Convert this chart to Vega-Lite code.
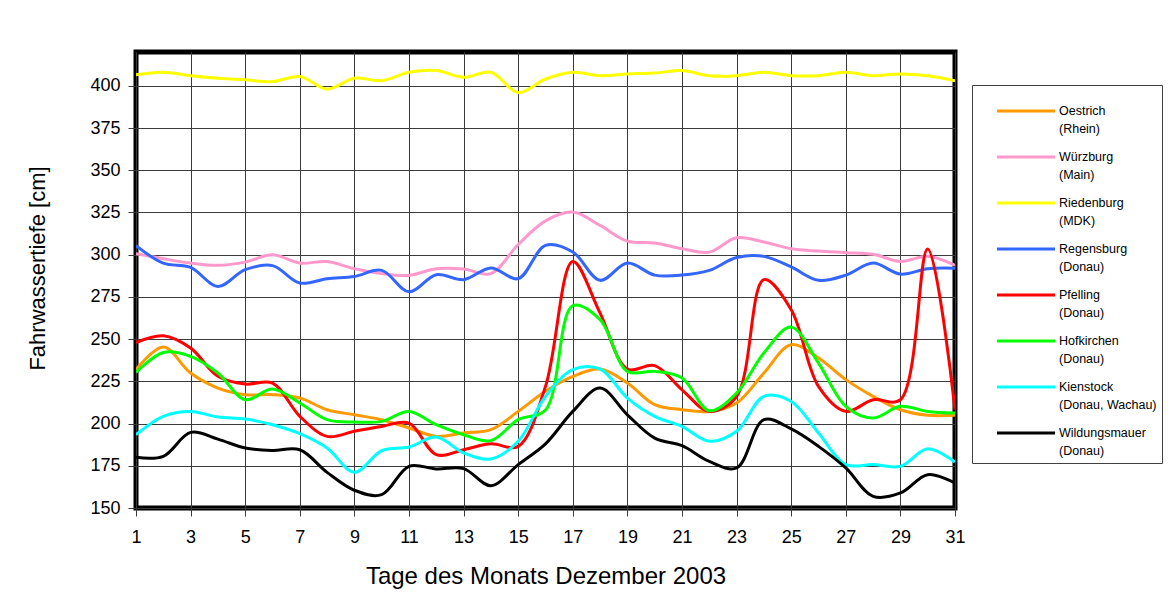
{
  "$schema": "https://vega.github.io/schema/vega-lite/v6.json",
  "width": 819,
  "height": 456,
  "autosize": {"type": "none"},
  "padding": {"left": 136, "top": 52, "right": 217, "bottom": 106},
  "background": "white",
  "config": {
    "font": "Liberation Sans",
    "view": {"stroke": "black", "strokeWidth": 5},
    "axis": {
      "labelFont": "Liberation Sans",
      "titleFont": "Liberation Sans",
      "labelColor": "black",
      "titleColor": "black",
      "labelFontSize": 18,
      "titleFontWeight": "normal",
      "gridColor": "#3a3a3a",
      "gridOpacity": 1,
      "gridWidth": 1,
      "tickColor": "#3a3a3a",
      "tickSize": 8,
      "domain": false
    }
  },
  "datasets": {
    "wl": [
      {"day":1,"s":"Oestrich (Rhein)","v":231.9},{"day":2,"s":"Oestrich (Rhein)","v":245.3},{"day":3,"s":"Oestrich (Rhein)","v":229.9},{"day":4,"s":"Oestrich (Rhein)","v":221},{"day":5,"s":"Oestrich (Rhein)","v":217.1},{"day":6,"s":"Oestrich (Rhein)","v":217.1},{"day":7,"s":"Oestrich (Rhein)","v":215.1},{"day":8,"s":"Oestrich (Rhein)","v":208.2},{"day":9,"s":"Oestrich (Rhein)","v":205.2},{"day":10,"s":"Oestrich (Rhein)","v":202.3},{"day":11,"s":"Oestrich (Rhein)","v":197.4},{"day":12,"s":"Oestrich (Rhein)","v":192.4},{"day":13,"s":"Oestrich (Rhein)","v":194.4},{"day":14,"s":"Oestrich (Rhein)","v":196.4},{"day":15,"s":"Oestrich (Rhein)","v":207.2},{"day":16,"s":"Oestrich (Rhein)","v":219.1},{"day":17,"s":"Oestrich (Rhein)","v":227.9},{"day":18,"s":"Oestrich (Rhein)","v":232.3},{"day":19,"s":"Oestrich (Rhein)","v":224},{"day":20,"s":"Oestrich (Rhein)","v":211.2},{"day":21,"s":"Oestrich (Rhein)","v":208.2},{"day":22,"s":"Oestrich (Rhein)","v":207.2},{"day":23,"s":"Oestrich (Rhein)","v":212.2},{"day":24,"s":"Oestrich (Rhein)","v":229.9},{"day":25,"s":"Oestrich (Rhein)","v":246.7},{"day":26,"s":"Oestrich (Rhein)","v":238.8},{"day":27,"s":"Oestrich (Rhein)","v":226},{"day":28,"s":"Oestrich (Rhein)","v":216.1},{"day":29,"s":"Oestrich (Rhein)","v":208.2},{"day":30,"s":"Oestrich (Rhein)","v":204.9},{"day":31,"s":"Oestrich (Rhein)","v":204.9},

      {"day":1,"s":"Würzburg (Main)","v":300.6},{"day":2,"s":"Würzburg (Main)","v":297.6},{"day":3,"s":"Würzburg (Main)","v":295},{"day":4,"s":"Würzburg (Main)","v":293.7},{"day":5,"s":"Würzburg (Main)","v":295.6},{"day":6,"s":"Würzburg (Main)","v":300},{"day":7,"s":"Würzburg (Main)","v":295},{"day":8,"s":"Würzburg (Main)","v":295.9},{"day":9,"s":"Würzburg (Main)","v":291.7},{"day":10,"s":"Würzburg (Main)","v":288.8},{"day":11,"s":"Würzburg (Main)","v":287.7},{"day":12,"s":"Würzburg (Main)","v":291.7},{"day":13,"s":"Würzburg (Main)","v":291.5},{"day":14,"s":"Würzburg (Main)","v":288.8},{"day":15,"s":"Würzburg (Main)","v":306},{"day":16,"s":"Würzburg (Main)","v":320},{"day":17,"s":"Würzburg (Main)","v":325.2},{"day":18,"s":"Würzburg (Main)","v":317.3},{"day":19,"s":"Würzburg (Main)","v":308},{"day":20,"s":"Würzburg (Main)","v":306.9},{"day":21,"s":"Würzburg (Main)","v":303.5},{"day":22,"s":"Würzburg (Main)","v":301.5},{"day":23,"s":"Würzburg (Main)","v":310},{"day":24,"s":"Würzburg (Main)","v":307.5},{"day":25,"s":"Würzburg (Main)","v":303.5},{"day":26,"s":"Würzburg (Main)","v":302.1},{"day":27,"s":"Würzburg (Main)","v":301.2},{"day":28,"s":"Würzburg (Main)","v":300.2},{"day":29,"s":"Würzburg (Main)","v":296},{"day":30,"s":"Würzburg (Main)","v":299},{"day":31,"s":"Würzburg (Main)","v":293.7},

      {"day":1,"s":"Riedenburg (MDK)","v":406.5},{"day":2,"s":"Riedenburg (MDK)","v":408},{"day":3,"s":"Riedenburg (MDK)","v":406},{"day":4,"s":"Riedenburg (MDK)","v":404.5},{"day":5,"s":"Riedenburg (MDK)","v":403.5},{"day":6,"s":"Riedenburg (MDK)","v":402.5},{"day":7,"s":"Riedenburg (MDK)","v":405.5},{"day":8,"s":"Riedenburg (MDK)","v":398},{"day":9,"s":"Riedenburg (MDK)","v":404.5},{"day":10,"s":"Riedenburg (MDK)","v":403},{"day":11,"s":"Riedenburg (MDK)","v":408},{"day":12,"s":"Riedenburg (MDK)","v":409},{"day":13,"s":"Riedenburg (MDK)","v":405},{"day":14,"s":"Riedenburg (MDK)","v":408},{"day":15,"s":"Riedenburg (MDK)","v":396},{"day":16,"s":"Riedenburg (MDK)","v":404},{"day":17,"s":"Riedenburg (MDK)","v":408},{"day":18,"s":"Riedenburg (MDK)","v":406},{"day":19,"s":"Riedenburg (MDK)","v":407},{"day":20,"s":"Riedenburg (MDK)","v":407.5},{"day":21,"s":"Riedenburg (MDK)","v":409},{"day":22,"s":"Riedenburg (MDK)","v":406},{"day":23,"s":"Riedenburg (MDK)","v":406},{"day":24,"s":"Riedenburg (MDK)","v":408},{"day":25,"s":"Riedenburg (MDK)","v":406},{"day":26,"s":"Riedenburg (MDK)","v":406},{"day":27,"s":"Riedenburg (MDK)","v":408},{"day":28,"s":"Riedenburg (MDK)","v":406},{"day":29,"s":"Riedenburg (MDK)","v":407},{"day":30,"s":"Riedenburg (MDK)","v":406},{"day":31,"s":"Riedenburg (MDK)","v":403},

      {"day":1,"s":"Regensburg (Donau)","v":305.3},{"day":2,"s":"Regensburg (Donau)","v":295},{"day":3,"s":"Regensburg (Donau)","v":292.5},{"day":4,"s":"Regensburg (Donau)","v":281.2},{"day":5,"s":"Regensburg (Donau)","v":291.1},{"day":6,"s":"Regensburg (Donau)","v":293.5},{"day":7,"s":"Regensburg (Donau)","v":283.2},{"day":8,"s":"Regensburg (Donau)","v":285.8},{"day":9,"s":"Regensburg (Donau)","v":287.1},{"day":10,"s":"Regensburg (Donau)","v":290.7},{"day":11,"s":"Regensburg (Donau)","v":278},{"day":12,"s":"Regensburg (Donau)","v":288.1},{"day":13,"s":"Regensburg (Donau)","v":285.2},{"day":14,"s":"Regensburg (Donau)","v":292.1},{"day":15,"s":"Regensburg (Donau)","v":285.8},{"day":16,"s":"Regensburg (Donau)","v":305.5},{"day":17,"s":"Regensburg (Donau)","v":301.6},{"day":18,"s":"Regensburg (Donau)","v":284.8},{"day":19,"s":"Regensburg (Donau)","v":295},{"day":20,"s":"Regensburg (Donau)","v":287.9},{"day":21,"s":"Regensburg (Donau)","v":287.9},{"day":22,"s":"Regensburg (Donau)","v":290.7},{"day":23,"s":"Regensburg (Donau)","v":298.3},{"day":24,"s":"Regensburg (Donau)","v":299},{"day":25,"s":"Regensburg (Donau)","v":292.7},{"day":26,"s":"Regensburg (Donau)","v":284.8},{"day":27,"s":"Regensburg (Donau)","v":287.9},{"day":28,"s":"Regensburg (Donau)","v":295},{"day":29,"s":"Regensburg (Donau)","v":288.5},{"day":30,"s":"Regensburg (Donau)","v":291.7},{"day":31,"s":"Regensburg (Donau)","v":292},

      {"day":1,"s":"Pfelling (Donau)","v":248},{"day":2,"s":"Pfelling (Donau)","v":252},{"day":3,"s":"Pfelling (Donau)","v":244.7},{"day":4,"s":"Pfelling (Donau)","v":228},{"day":5,"s":"Pfelling (Donau)","v":223.4},{"day":6,"s":"Pfelling (Donau)","v":224},{"day":7,"s":"Pfelling (Donau)","v":204.3},{"day":8,"s":"Pfelling (Donau)","v":192.4},{"day":9,"s":"Pfelling (Donau)","v":195.4},{"day":10,"s":"Pfelling (Donau)","v":198.3},{"day":11,"s":"Pfelling (Donau)","v":200.3},{"day":12,"s":"Pfelling (Donau)","v":181.6},{"day":13,"s":"Pfelling (Donau)","v":184.5},{"day":14,"s":"Pfelling (Donau)","v":188},{"day":15,"s":"Pfelling (Donau)","v":186.5},{"day":16,"s":"Pfelling (Donau)","v":222},{"day":17,"s":"Pfelling (Donau)","v":296},{"day":18,"s":"Pfelling (Donau)","v":265.4},{"day":19,"s":"Pfelling (Donau)","v":232.3},{"day":20,"s":"Pfelling (Donau)","v":234.3},{"day":21,"s":"Pfelling (Donau)","v":220},{"day":22,"s":"Pfelling (Donau)","v":207.2},{"day":23,"s":"Pfelling (Donau)","v":216},{"day":24,"s":"Pfelling (Donau)","v":285.2},{"day":25,"s":"Pfelling (Donau)","v":267.4},{"day":26,"s":"Pfelling (Donau)","v":222},{"day":27,"s":"Pfelling (Donau)","v":207.2},{"day":28,"s":"Pfelling (Donau)","v":214.1},{"day":29,"s":"Pfelling (Donau)","v":214.1},{"day":30,"s":"Pfelling (Donau)","v":303.3},{"day":31,"s":"Pfelling (Donau)","v":208.2},

      {"day":1,"s":"Hofkirchen (Donau)","v":230.3},{"day":2,"s":"Hofkirchen (Donau)","v":242.1},{"day":3,"s":"Hofkirchen (Donau)","v":239.8},{"day":4,"s":"Hofkirchen (Donau)","v":229.9},{"day":5,"s":"Hofkirchen (Donau)","v":214.1},{"day":6,"s":"Hofkirchen (Donau)","v":220.4},{"day":7,"s":"Hofkirchen (Donau)","v":212.2},{"day":8,"s":"Hofkirchen (Donau)","v":202.3},{"day":9,"s":"Hofkirchen (Donau)","v":200.9},{"day":10,"s":"Hofkirchen (Donau)","v":201.3},{"day":11,"s":"Hofkirchen (Donau)","v":207.2},{"day":12,"s":"Hofkirchen (Donau)","v":199.3},{"day":13,"s":"Hofkirchen (Donau)","v":193.4},{"day":14,"s":"Hofkirchen (Donau)","v":189.9},{"day":15,"s":"Hofkirchen (Donau)","v":202.3},{"day":16,"s":"Hofkirchen (Donau)","v":208},{"day":17,"s":"Hofkirchen (Donau)","v":269.8},{"day":18,"s":"Hofkirchen (Donau)","v":261.5},{"day":19,"s":"Hofkirchen (Donau)","v":230.9},{"day":20,"s":"Hofkirchen (Donau)","v":230.9},{"day":21,"s":"Hofkirchen (Donau)","v":227},{"day":22,"s":"Hofkirchen (Donau)","v":207.6},{"day":23,"s":"Hofkirchen (Donau)","v":218},{"day":24,"s":"Hofkirchen (Donau)","v":241.8},{"day":25,"s":"Hofkirchen (Donau)","v":257.1},{"day":26,"s":"Hofkirchen (Donau)","v":235.8},{"day":27,"s":"Hofkirchen (Donau)","v":210.2},{"day":28,"s":"Hofkirchen (Donau)","v":203.3},{"day":29,"s":"Hofkirchen (Donau)","v":210.2},{"day":30,"s":"Hofkirchen (Donau)","v":207.2},{"day":31,"s":"Hofkirchen (Donau)","v":206.2},

      {"day":1,"s":"Kienstock (Donau, Wachau)","v":193.4},{"day":2,"s":"Kienstock (Donau, Wachau)","v":204.3},{"day":3,"s":"Kienstock (Donau, Wachau)","v":207.2},{"day":4,"s":"Kienstock (Donau, Wachau)","v":203.9},{"day":5,"s":"Kienstock (Donau, Wachau)","v":202.7},{"day":6,"s":"Kienstock (Donau, Wachau)","v":199.3},{"day":7,"s":"Kienstock (Donau, Wachau)","v":194},{"day":8,"s":"Kienstock (Donau, Wachau)","v":185.5},{"day":9,"s":"Kienstock (Donau, Wachau)","v":171.1},{"day":10,"s":"Kienstock (Donau, Wachau)","v":183.9},{"day":11,"s":"Kienstock (Donau, Wachau)","v":186.1},{"day":12,"s":"Kienstock (Donau, Wachau)","v":192},{"day":13,"s":"Kienstock (Donau, Wachau)","v":182.6},{"day":14,"s":"Kienstock (Donau, Wachau)","v":179},{"day":15,"s":"Kienstock (Donau, Wachau)","v":189.5},{"day":16,"s":"Kienstock (Donau, Wachau)","v":216},{"day":17,"s":"Kienstock (Donau, Wachau)","v":231.9},{"day":18,"s":"Kienstock (Donau, Wachau)","v":232.3},{"day":19,"s":"Kienstock (Donau, Wachau)","v":215.1},{"day":20,"s":"Kienstock (Donau, Wachau)","v":204.3},{"day":21,"s":"Kienstock (Donau, Wachau)","v":198.3},{"day":22,"s":"Kienstock (Donau, Wachau)","v":189.5},{"day":23,"s":"Kienstock (Donau, Wachau)","v":195.4},{"day":24,"s":"Kienstock (Donau, Wachau)","v":216.1},{"day":25,"s":"Kienstock (Donau, Wachau)","v":213.1},{"day":26,"s":"Kienstock (Donau, Wachau)","v":194.4},{"day":27,"s":"Kienstock (Donau, Wachau)","v":175.7},{"day":28,"s":"Kienstock (Donau, Wachau)","v":175.7},{"day":29,"s":"Kienstock (Donau, Wachau)","v":174.7},{"day":30,"s":"Kienstock (Donau, Wachau)","v":185.1},{"day":31,"s":"Kienstock (Donau, Wachau)","v":177.2},

      {"day":1,"s":"Wildungsmauer (Donau)","v":180},{"day":2,"s":"Wildungsmauer (Donau)","v":180.6},{"day":3,"s":"Wildungsmauer (Donau)","v":194.8},{"day":4,"s":"Wildungsmauer (Donau)","v":190.8},{"day":5,"s":"Wildungsmauer (Donau)","v":185.5},{"day":6,"s":"Wildungsmauer (Donau)","v":184.1},{"day":7,"s":"Wildungsmauer (Donau)","v":184.5},{"day":8,"s":"Wildungsmauer (Donau)","v":171.1},{"day":9,"s":"Wildungsmauer (Donau)","v":160.5},{"day":10,"s":"Wildungsmauer (Donau)","v":157.9},{"day":11,"s":"Wildungsmauer (Donau)","v":174.7},{"day":12,"s":"Wildungsmauer (Donau)","v":173.1},{"day":13,"s":"Wildungsmauer (Donau)","v":173.3},{"day":14,"s":"Wildungsmauer (Donau)","v":163.2},{"day":15,"s":"Wildungsmauer (Donau)","v":175.7},{"day":16,"s":"Wildungsmauer (Donau)","v":188},{"day":17,"s":"Wildungsmauer (Donau)","v":207.2},{"day":18,"s":"Wildungsmauer (Donau)","v":221},{"day":19,"s":"Wildungsmauer (Donau)","v":205.2},{"day":20,"s":"Wildungsmauer (Donau)","v":191.4},{"day":21,"s":"Wildungsmauer (Donau)","v":186.9},{"day":22,"s":"Wildungsmauer (Donau)","v":177.6},{"day":23,"s":"Wildungsmauer (Donau)","v":173.7},{"day":24,"s":"Wildungsmauer (Donau)","v":202.3},{"day":25,"s":"Wildungsmauer (Donau)","v":196.8},{"day":26,"s":"Wildungsmauer (Donau)","v":186.5},{"day":27,"s":"Wildungsmauer (Donau)","v":173.7},{"day":28,"s":"Wildungsmauer (Donau)","v":156.9},{"day":29,"s":"Wildungsmauer (Donau)","v":158.9},{"day":30,"s":"Wildungsmauer (Donau)","v":169.7},{"day":31,"s":"Wildungsmauer (Donau)","v":164.8}
    ]
  },
  "data": {"name": "wl"},
  "mark": {"type": "line", "interpolate": "catmull-rom", "strokeWidth": 3, "clip": true},
  "encoding": {
    "x": {
      "field": "day",
      "type": "quantitative",
      "scale": {"domain": [1, 31], "nice": false, "zero": false},
      "axis": {
        "values": [1,3,5,7,9,11,13,15,17,19,21,23,25,27,29,31],
        "title": "Tage des Monats Dezember 2003",
        "titleFontSize": 24,
        "labelPadding": 12,
        "titlePadding": 18,
        "labelFlush": false
      }
    },
    "y": {
      "field": "v",
      "type": "quantitative",
      "scale": {"domain": [150, 420], "nice": false, "zero": false},
      "axis": {
        "values": [150,175,200,225,250,275,300,325,350,375,400],
        "title": "Fahrwassertiefe [cm]",
        "titleFontSize": 22,
        "labelPadding": 8,
        "titlePadding": 40,
        "titleY": 216
      }
    },
    "color": {
      "field": "s",
      "type": "nominal",
      "sort": null,
      "scale": {
        "domain": ["Oestrich (Rhein)", "Würzburg (Main)", "Riedenburg (MDK)", "Regensburg (Donau)", "Pfelling (Donau)", "Hofkirchen (Donau)", "Kienstock (Donau, Wachau)", "Wildungsmauer (Donau)"],
        "range": ["#FF9900", "#FF99CC", "#FFFF00", "#3366FF", "#FF0000", "#00FF00", "#00FFFF", "#000000"]
      },
      "legend": {
        "title": null,
        "orient": "none",
        "legendX": 836,
        "legendY": 33,
        "symbolType": "M-1.5,0H1.5",
        "symbolSize": 1500,
        "symbolStrokeWidth": 3,
        "symbolOffset": 28,
        "labelFont": "Liberation Sans",
        "labelFontSize": 12.5,
        "labelColor": "black",
        "labelLimit": 200,
        "labelExpr": "[split(datum.label, ' (')[0], (indexof(datum.label, 'Main') >= 0 ? '\u00a0\u00a0\u00a0' : (indexof(datum.label, 'Kienstock') >= 0 || indexof(datum.label, 'Wildungs') >= 0 ? '' : '\u00a0')) + '(' + split(datum.label, ' (')[1]]",
        "labelOffset": 12,
        "rowPadding": -1,
        "padding": 5,
        "strokeColor": "#404040",
        "fillColor": "white",
        "encode": {
          "labels": {"update": {"lineHeight": {"value": 18}}}
        }
      }
    }
  }
}
